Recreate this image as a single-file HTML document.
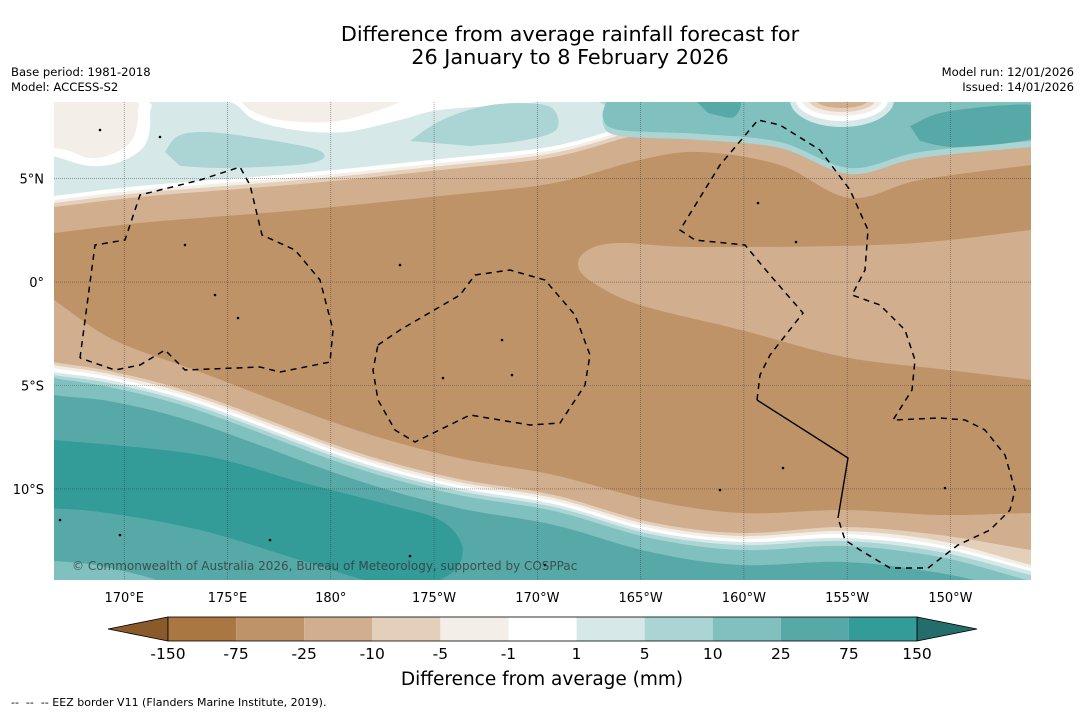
<!DOCTYPE html>
<html><head><meta charset="utf-8"><style>
body{margin:0;background:#fff;width:1085px;height:713px;overflow:hidden;font-family:"Liberation Sans","DejaVu Sans",sans-serif}
svg text{font-family:"DejaVu Sans","Liberation Sans",sans-serif}
</style></head><body>
<svg id="chart" width="1085" height="713" viewBox="0 0 1085 713" xmlns="http://www.w3.org/2000/svg">
<text x="570" y="41" font-size="20.8" text-anchor="middle" fill="#000">Difference from average rainfall forecast for</text>
<text x="570" y="64" font-size="20.8" text-anchor="middle" fill="#000">26 January to 8 February 2026</text>
<text x="11" y="76" font-size="11.6">Base period: 1981-2018</text>
<text x="11" y="91" font-size="11.6">Model: ACCESS-S2</text>
<text x="1074" y="76" font-size="11.6" text-anchor="end">Model run: 12/01/2026</text>
<text x="1074" y="91" font-size="11.6" text-anchor="end">Issued: 14/01/2026</text>
<defs><clipPath id="mapclip"><rect x="54" y="102" width="977" height="478"/></clipPath></defs>
<g id="map" clip-path="url(#mapclip)"></g>
<g id="axes"></g>
<g id="cbar"></g>
<text x="542" y="685" font-size="18.5" text-anchor="middle">Difference from average (mm)</text>
<text x="11" y="706" font-size="11" xml:space="preserve">--  --  -- EEZ border V11 (Flanders Marine Institute, 2019).</text>
</svg>
<script>
// colour levels (data)
const levelLabels=["-150","-75","-25","-10","-5","-1","1","5","10","25","75","150"];
const levelColors=["#aa7641","#bf9368","#d1ae8e","#e4cfba","#f3eee7","#ffffff","#d6e9e8","#aad5d4","#80c0be","#57a9a7","#339b98"];
const lonTicks=[170,175,180,-175,-170,-165,-160,-155,-150];
const latTicks=[5,0,-5,-10];
const lonMin=166.6, lonMax=213.9, latMax=8.7, latMin=-14.4;
const X0=54,X1=1031,Y0=102,Y1=580;
function xLon(l){if(l<0)l+=360;return X0+(l-lonMin)/(lonMax-lonMin)*(X1-X0);}
function yLat(l){return Y0+(latMax-l)/(latMax-latMin)*(Y1-Y0);}
const NS="http://www.w3.org/2000/svg";
function mk(tag,attrs,parent){const e=document.createElementNS(NS,tag);for(const k in attrs)e.setAttribute(k,attrs[k]);parent.appendChild(e);return e;}
function smooth(p){let d="M"+p[0][0]+","+p[0][1];for(let i=0;i<p.length-1;i++){const a=p[Math.max(0,i-1)],b=p[i],c=p[i+1],e=p[Math.min(p.length-1,i+2)];const c1=[b[0]+(c[0]-a[0])/6,b[1]+(c[1]-a[1])/6],c2=[c[0]-(e[0]-b[0])/6,c[1]-(e[1]-b[1])/6];d+=" C"+c1[0]+","+c1[1]+" "+c2[0]+","+c2[1]+" "+c[0]+","+c[1];}return d;}
function closedSmooth(p){return smooth(p)+" Z";}
const map=document.getElementById('map');
function area(name,d,color){const e=mk('path',{d:d,fill:color},map);

return e;}
area('band-minus75',"M0,0H1085V713H0Z",levelColors[1]);
const topCurve=[[40,235],[54,233],[150,222],[300,210],[450,195],[554,183],[640,160],[700,152],[780,165],[850,198],[920,180],[1031,165],[1045,163]];
function shift(c,dys){return c.map((p,i)=>[p[0],p[1]+(Array.isArray(dys)?dys[i]:dys)]);}
function topArea(c){return smooth(c)+" L1045,90 L40,90 Z";}
function botArea(c){return smooth(c)+" L1045,600 L40,600 Z";}
const topLayers=[[0,2],[-26,3],[-30,4],[-33,5],[-37,6]];
topLayers.forEach(([dy,ci])=>{area('top-band-'+levelLabels[ci],topArea(shift(topCurve,dy)),levelColors[ci]);});
area('top-left-white',closedSmooth([[40,102],[140,100],[150,115],[145,145],[120,162],[90,166],[60,158],[40,152]]),levelColors[5]);
area('top-left-offwhite',closedSmooth([[40,100],[128,100],[138,112],[132,140],[112,154],[90,158],[66,150],[40,146]]),levelColors[4]);
area('top-mid-white',closedSmooth([[215,98],[235,104],[255,120],[295,130],[345,132],[400,120],[440,110],[520,104],[560,98]]),levelColors[5]);
area('top-mid-offwhite',closedSmooth([[240,98],[250,110],[280,120],[330,122],[370,113],[400,102],[410,96]]),levelColors[4]);
area('top-left-blob-5',closedSmooth([[165,152],[178,136],[205,132],[250,137],[318,150],[312,163],[230,168],[180,166]]),levelColors[7]);
area('top-mid-blob-5',closedSmooth([[410,141],[440,121],[480,107],[520,103],[552,108],[556,130],[520,141],[470,146]]),levelColors[7]);
const tealEdge=[[1045,140],[1031,141],[920,152],[850,168],[780,142],[700,134],[620,130],[603,118],[607,100]];
area('top-right-band-5',smooth(tealEdge.map(p=>[p[0],p[1]+6]))+" L575,90 L1045,90 Z",levelColors[7]);
area('top-right-band-10',smooth(tealEdge)+" L600,90 L1045,90 Z",levelColors[8]);
area('top-right-blob-25a',closedSmooth([[910,126],[950,111],[1040,106],[1040,136],[960,147],[920,141]]),levelColors[9]);
area('top-right-blob-25b',closedSmooth([[693,98],[738,98],[734,117],[708,113]]),levelColors[9]);
[[52,27,6],[46,21,5],[40,16,4],[33,12,3],[26,8,2]].forEach(([rx,ry,ci])=>{const e=mk('ellipse',{cx:842,cy:100,rx:rx,ry:ry,fill:levelColors[ci]},map);

});
area('tongue-minus25',closedSmooth([[1045,229],[1031,230],[900,244],[700,247],[620,243],[588,250],[578,265],[592,282],[640,305],[741,330],[844,357],[940,369],[1031,380],[1045,382]]),levelColors[2]);
const botCurve=[[40,292],[54,300],[114,340],[200,372],[350,428],[454,457],[554,475],[650,500],[741,513],[844,510],[940,515],[1031,513],[1045,513]];
const botLayers=[[[0,0,0,0,0,0,0,0,0,0,0,0,0],2],[[64,62,32,23,22,21,20,22,20,17,20,37,37],3],[[67,65,35,26,25,24,23,25,23,21,26,52,52],4],[[70,68,38,29,28,27,26,28,26,24,30,55,55],5],[[74,72,41,32,31,30,29,31,29,28,33,58,58],6],[[77,75,44,35,34,33,32,34,32,31,37,62,62],7],[[80,78,48,39,38,37,36,38,37,36,42,68,68],8],[[95,95,62,52,50,50,50,52,52,52,58,80,80],9]];
botLayers.forEach(([dy,ci])=>{area('bottom-band-'+levelLabels[ci],botArea(shift(botCurve,dy)),levelColors[ci]);});
area('bottom-core-75',closedSmooth([[40,440],[54,440],[200,455],[300,482],[390,505],[440,520],[462,545],[455,570],[425,584],[380,584],[300,560],[200,530],[100,512],[40,508]]),levelColors[10]);
area('bottom-left-10',closedSmooth([[40,560],[100,566],[160,584],[40,584]]),levelColors[8]);
lonTicks.forEach(l=>{const e=mk('line',{x1:xLon(l),x2:xLon(l),y1:Y0,y2:Y1,stroke:"#333","stroke-width":0.6,"stroke-dasharray":"1,1",opacity:0.7},map);

});
latTicks.forEach(l=>{const e=mk('line',{x1:X0,x2:X1,y1:yLat(l),y2:yLat(l),stroke:"#333","stroke-width":0.6,"stroke-dasharray":"1,1",opacity:0.7},map);

});
const eez=[
[[80,358],[95,245],[125,240],[140,195],[200,180],[240,167],[250,185],[262,235],[295,250],[320,280],[333,330],[330,362],[280,372],[260,367],[185,370],[165,350],[140,365],[115,370],[80,358]],
[[378,345],[400,330],[460,295],[475,275],[510,270],[545,280],[575,315],[590,355],[585,385],[560,423],[530,425],[470,415],[415,442],[395,430],[378,400],[373,370],[378,345]],
[[757,400],[760,375],[770,355],[803,313],[770,275],[745,245],[695,240],[680,230],[720,165],[758,120],[780,125],[820,150],[850,190],[868,230],[865,270],[852,295],[880,305],[905,330],[915,360],[912,390],[893,420],[940,418],[965,420],[985,430],[1005,455],[1015,490],[1010,510],[990,530],[958,545],[928,568],[890,568],[860,550],[845,540],[838,518]]
];
eez.forEach(p=>{const e=mk('polyline',{points:p.map(q=>q.join(",")).join(" "),fill:"none",stroke:"#000","stroke-width":1.5,"stroke-dasharray":"6,5"},map);

});
const sol=mk('polyline',{points:"757,400 848,458 838,518",fill:"none",stroke:"#000","stroke-width":1.4},map);


[[100,130],[160,137],[185,245],[215,295],[238,318],[400,265],[502,340],[443,378],[512,375],[758,203],[796,242],[783,468],[720,490],[945,488],[60,520],[270,540],[410,556],[545,565],[120,535]].forEach(p=>{const e=mk('circle',{cx:p[0],cy:p[1],r:1.3,fill:"#000"},map);

});
const cp=mk('text',{x:72,y:570,"font-size":12,fill:"#333",opacity:0.75},map);cp.textContent="© Commonwealth of Australia 2026, Bureau of Meteorology, supported by COSPPac";


const axes=document.getElementById('axes');
lonTicks.forEach(l=>{const t=mk('text',{x:xLon(l),y:602,"font-size":13,"text-anchor":"middle"},axes);t.textContent=Math.abs(l)+"°"+(l==180?"":(l>0?"E":"W"));

});
latTicks.forEach(l=>{const t=mk('text',{x:44,y:yLat(l)+5,"font-size":13,"text-anchor":"end"},axes);t.textContent=Math.abs(l)+"°"+(l==0?"":(l>0?"N":"S"));

});
const cb=document.getElementById('cbar');
const cx0=168,cx1=917,cy0=617,cy1=641,w=(cx1-cx0)/levelColors.length;
const lt=mk('polygon',{points:`${cx0},${cy0} ${cx0},${cy1} 108,629`,fill:"#8b5a2b",stroke:"#000","stroke-width":0.8},cb);


const rt=mk('polygon',{points:`${cx1},${cy0} ${cx1},${cy1} 977,629`,fill:"#236e6c",stroke:"#000","stroke-width":0.8},cb);


levelColors.forEach((c,i)=>{const r=mk('rect',{x:cx0+i*w,y:cy0,width:w,height:cy1-cy0,fill:c},cb);

});
mk('rect',{x:cx0,y:cy0,width:cx1-cx0,height:cy1-cy0,fill:"none",stroke:"#000","stroke-width":0.8},cb);
levelLabels.forEach((s,i)=>{const t=mk('text',{x:cx0+i*w,y:659,"font-size":15.5,"text-anchor":"middle"},cb);t.textContent=s;

});
</script>
</body></html>
